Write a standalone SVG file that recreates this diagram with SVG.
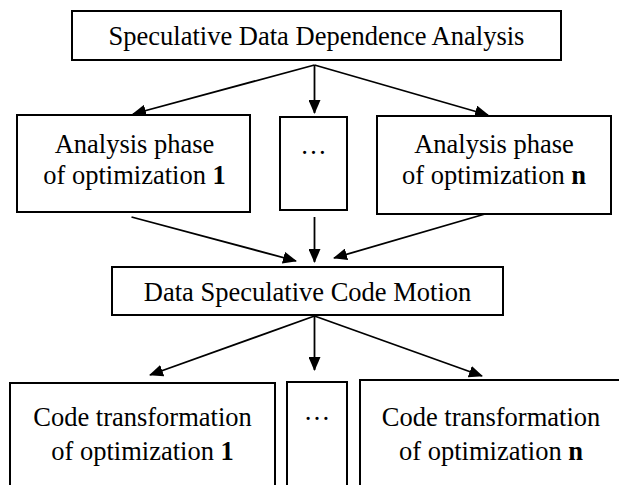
<svg xmlns="http://www.w3.org/2000/svg" width="619" height="485" viewBox="0 0 619 485">
<style>
.box{fill:#fff;stroke:#000;stroke-width:2}
.t{font-family:"Liberation Serif","Times New Roman",serif;font-size:26.5px;fill:#000;text-anchor:middle}
.b{font-weight:bold}
.c{fill:none;stroke:#000;stroke-width:1.8}
</style>
<defs>
<marker id="ah" markerUnits="userSpaceOnUse" markerWidth="14" markerHeight="12" refX="13" refY="6" orient="auto">
<path d="M0,0 L14,6 L0,12 z" fill="#000"/>
</marker>
</defs>
<rect width="619" height="485" fill="#fff"/>
<g id="connectors">
<path class="c" d="M314.5,65 L133,114" marker-end="url(#ah)"/>
<path class="c" d="M314.5,65 L314.5,113" marker-end="url(#ah)"/>
<path class="c" d="M314.5,65 L488,115" marker-end="url(#ah)"/>
<path class="c" d="M131.5,217 L296,261" marker-end="url(#ah)"/>
<path class="c" d="M314.5,217 L314.5,262" marker-end="url(#ah)"/>
<path class="c" d="M485,214 L334,258" marker-end="url(#ah)"/>
<path class="c" d="M314.5,316 L150,375" marker-end="url(#ah)"/>
<path class="c" d="M314.5,316 L314.5,370" marker-end="url(#ah)"/>
<path class="c" d="M314.5,316 L482,376" marker-end="url(#ah)"/>
</g>
<g id="n_sdda">
<rect class="box" x="72" y="11" width="489" height="49"/>
<text class="t" x="316.5" y="45">Speculative Data Dependence Analysis</text>
</g>
<g id="n_ap1">
<rect class="box" x="17" y="115" width="233" height="97"/>
<text class="t" x="134.5" y="153">Analysis phase</text>
<text class="t" x="134.5" y="184">of optimization <tspan class="b">1</tspan></text>
</g>
<g id="n_apdots">
<rect class="box" x="280" y="117" width="67" height="93"/>
<text class="t" x="313.5" y="154">…</text>
</g>
<g id="n_apn">
<rect class="box" x="377" y="116" width="234" height="98"/>
<text class="t" x="494" y="153">Analysis phase</text>
<text class="t" x="494" y="184">of optimization <tspan class="b">n</tspan></text>
</g>
<g id="n_dscm">
<rect class="box" x="112" y="267" width="391" height="48"/>
<text class="t" x="307.5" y="301">Data Speculative Code Motion</text>
</g>
<g id="n_ct1">
<rect class="box" x="10" y="383" width="265" height="110"/>
<text class="t" x="142.5" y="426">Code transformation</text>
<text class="t" x="142.5" y="460">of optimization <tspan class="b">1</tspan></text>
</g>
<g id="n_ctdots">
<rect class="box" x="287" y="382" width="60" height="110"/>
<text class="t" x="317" y="420">…</text>
</g>
<g id="n_ctn">
<rect class="box" x="360" y="380" width="262" height="112"/>
<text class="t" x="491" y="426">Code transformation</text>
<text class="t" x="491" y="460">of optimization <tspan class="b">n</tspan></text>
</g>
</svg>
